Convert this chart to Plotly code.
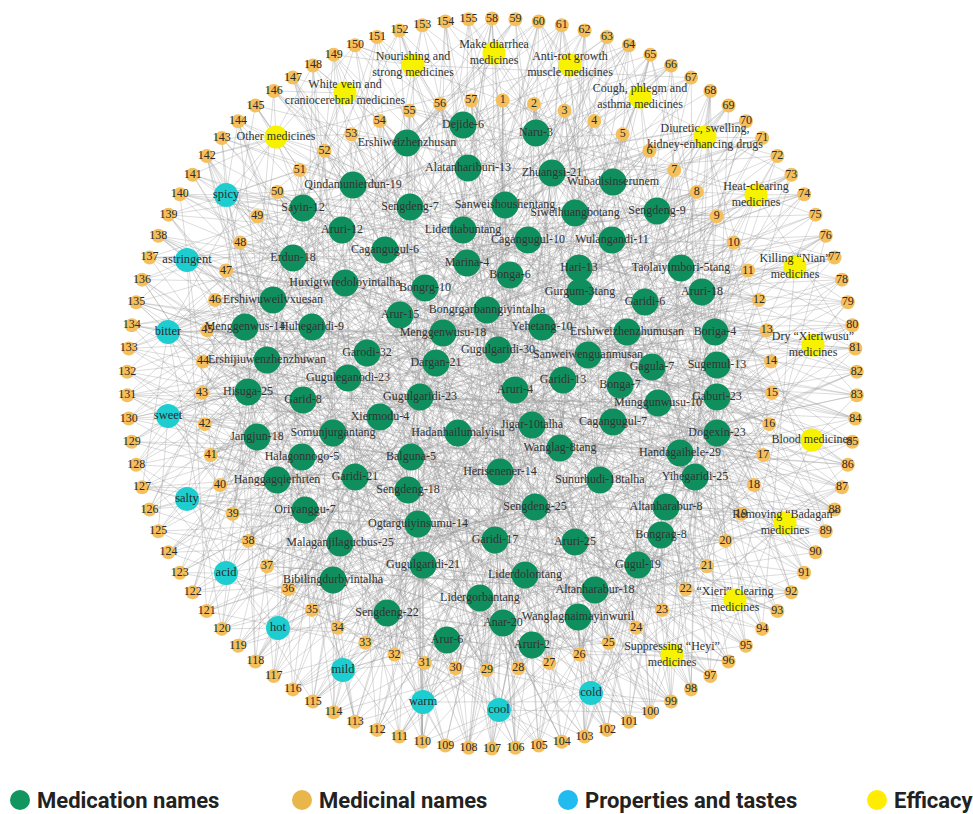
import math
import plotly.graph_objects as go

# ---------------- data ----------------
inner_ids = list(range(1, 58))      # medicinal names, inner ring
outer_ids = list(range(58, 156))    # medicinal names, outer ring

med_names = [
    "Dejide-6", "Naru-3", "Ershiweizhenzhusan", "Alatanhariburi-13", "Zhuangsi-21",
    "Wubadisinserunem", "Qindamunierdun-19", "Sayin-12", "Sengdeng-7", "Sanweishoushentang",
    "Siweihuangbotang", "Sengdeng-9", "Aruri-12", "Lideritabuntang", "Cagangugul-10",
    "Wulangandi-11", "Cagangugul-6", "Erdun-18", "Marina-4", "Hari-13",
    "Taolaiyimbori-5tang", "Bonga-6", "Huxigtwredoloyintalha", "Bongrg-10", "Gurgum-3tang",
    "Garidi-6", "Aruri-18", "Ershiwuweilvxuesan", "Bongrgarbanngiyintalha", "Arur-15",
    "Yehetang-10", "Ershiweizhenzhumusan", "Boriga-4", "Menggenwus-14", "Huhegaridi-9",
    "Menggenwusu-18", "Gugulgaridi-30", "Sanweiwenguanmusan", "Ershijiuwenzhenzhuwan", "Garodi-32",
    "Dargan-21", "Gagula-7", "Sugemul-13", "Guguleganodi-23", "Garidi-13",
    "Bonga-7", "Hisuga-25", "Garid-8", "Gugulgaridi-23", "Aruri-4",
    "Munggunwusu-10", "Gaburi-23", "Xiermodu-4", "Cagangugul-7", "Jangjun-18",
    "Somunjurgantang", "Hadanhailumalyisu", "Jigar-10talha", "Dogexin-23", "Wanglag-8tang",
    "Halagonnogo-5", "Handagaihele-29", "Balguna-5", "Herisenener-14", "Hanggagqierhrten",
    "Garidi-21", "Sunurhudi-18talha", "Yihegaridi-25", "Sengdeng-18", "Oriyanggu-7",
    "Sengdeng-25", "Altanharabur-8", "Ogtarguiyinsumu-14", "Bongrag-8", "Malaganjilagucbus-25",
    "Garidi-17", "Aruri-25", "Gugul-19", "Gugulgaridi-21", "Bibilingdurbyintalha",
    "Liderdolontang", "Altanharabur-18", "Lidergorbantang", "Sengdeng-22", "Anar-20",
    "Wanglagnaimayinwuril", "Arur-6", "Aruri-2",
]

# medicinal numbers (ring nodes) linked to each medication, same order as med_names
med_ingredients = [
    "1 57 62 150 12 88",
    "2 60 3",
    "53 54 148 145 22 95 131 9 77 110 40 18 66 5",
    "1 56 58 152 24 101 43 12 139 70 33 85 7",
    "4 63 61 2 29 118 80 15 47 136 90 10 108 55 66 25 99 8 121 37 72",
    "5 65 6 71 19 93 124 41 100 30",
    "51 52 147 146 144 35 86 14 102 60 28 117 44 70 9 133 23 91 50",
    "49 50 142 141 140 36 104 13 78 20 126 61",
    "55 149 31 97 11 83 143",
    "57 1 106",
    "3 64 27 113",
    "7 8 73 68 34 119 46 92 153",
    "48 139 38 84 16 105 59 26 128 75 21 151",
    "56 155 32 107 17 89",
    "2 59 39 112 18 79 45 130 24 96",
    "6 67 9 20 94 115 42 137 81 58 31",
    "52 150 29 98 13 74",
    "47 48 138 137 135 40 120 11 87 23 109 63 144 26 6 76 99 15",
    "54 100 36 14",
    "10 69 25 114 41 82 134 3 62 19 103 57 140",
    "10 11 75 76 107",
    "4 58 28 93 120 49",
    "46 136 22 102 71 16 125 85 38 149 5 116 33 97",
    "53 154 37 110 7 91 129 64 42 21",
    "12 78 106",
    "13 14 80 101 44 155",
    "11 12 77 79 26 111 50 123 4 89 35 143 68 17 98 130 20 65",
    "45 46 134 133 25 96 67 8 122 39 150 82 29 113 1 56 141 18 74 108",
    "30 104 57 19 127 73 44 152 9 88",
    "50 145 34 117 15 83 128 43 61 24 103 6 138 72 55",
    "27 109 16 84 47 132 3 65 21 119",
    "13 15 81 76 31 99 48 118 60 2 146 27 87 40 114 53 22 70 9 127",
    "14 82 105 36",
    "44 45 132 131 130 41 117 23 92 64 8 142 33 76",
    "43 129 28 111 52 86 19 140 68",
    "36 100 55 12 124 69 38 147 3 94 45 116 20 79 58 133 26 107",
    "29 106 42 118 5 71 135 24 90 57 148 14 102 32 63 125 49 84 11 155 37 96 1 73 139 18 110 54 81 30",
    "16 83 112",
    "42 43 44 128 127 35 113 21 88 59 10 151 26 95 48 122 66 4 136 30 77 17 99 51 144 39 103 62 29",
    "38 121 47 104 15 73 138 27 91 58 6 126 34 86 54 110",
    "33 97 51 134 8 80 19 119 64 2 143 41 108 27 69 154 22 100 46 87 12",
    "17 85 16 115 34 72 3",
    "15 16 84 86 36 103 59 121 6 92 47 141 22",
    "41 42 125 124 32 109 56 17 87 66 3 148 40 114 20 75 131 9 96 53 112 28 71",
    "23 105 45 128 11 83 137 31 62 100 2 119 52",
    "18 87 7 90 37 111 146",
    "42 126 130 123 39 102 22 85 64 13 146 48 118 30 74 5 137 97 24 58 109 35 152 16 81",
    "40 124 25 93 60 8 139 105",
    "35 107 20 78 49 133 1 67 114 28 90 145 11 55 99 32 123 6 84 44 152 18 71",
    "26 89 53 140",
    "19 88 17 102 43 131 70 8 115 56",
    "17 18 89 91 38 112 10 66 135 47 4 100 28 154 60 82 21 124 52 95 33 69 5",
    "37 122 50 108",
    "21 90 32 116 7 62 149",
    "40 41 123 122 121 31 106 12 79 57 143 24 94 65 3 131 46 88",
    "38 120 18 93",
    "27 101 48 130 14 67 150 35 86 9 115",
    "24 95 61 13 108 39 141 76 2 126",
    "18 19 20 92 94 40 113 7 68 134 25 81 149 56 97 12 120 45 73 30 104 63 1",
    "25 96 22 117 54 79 8 135",
    "39 120 36 85 148",
    "20 21 93 95 97 26 110 5 66 129 44 84 10 150 35 101 59 115 14 72 140 50 23 88 131 3 78 153 31",
    "32 111 29 77 142",
    "28 107 58 126 15 70 137 42 98 6 116 33 83 154",
    "38 39 118 119 116 30 101 23 80 136 9 65",
    "36 115 27 92 51 144 11 72 103 45 19 128 62 6 123 34 89 153 14 78 40",
    "24 98 31 121 8 74 138 43 64 105 17 147 56 90 2 129 67 36",
    "21 22 96 98 99 30 111 4 67 132 46 85 16 146 57 103 25 138 75 9 122 37 94 61 151",
    "33 110 54 127 10 76 142 26 95 49 117 3 69 139 41 106 18 83",
    "37 38 114 115 29 100 73",
    "29 104 56 133 12 82 145 34 97 1 121 50 71 153 20 108 39 88 130 7 62 115 44 151 27",
    "22 23 98 100 48 125 15 79",
    "34 113 60 136 4 74 147 39 102 21 129 63 9 110",
    "22 23 24 101 99 32 119 11",
    "35 36 37 116 117 118 26 94 63 142 10 75 127 47 5 132 52 86 19 109 64 148 30 99 13",
    "28 29 30 106 108 41 132 17 93 57 147 22 80 124 65 3 135",
    "25 26 27 103 105 46 127 14 87 68 155 6 116 33 91 53 143 18 77 120 39 111 2 59 138",
    "23 24 25 100 102 49 134 12 68 16 122 55 95 41 144 7 87 61 106",
    "32 33 34 112 110 43 135 23 89 61 149 8 118 48 74 27 141 15 99 58 131",
    "35 36 113 114 115 51 128 28 82",
    "26 27 105 107 65 142 9",
    "24 25 26 101 103 104 37 125 19 91 52 136 13 70 152 44 117 66",
    "28 29 30 108 109 54 139 20",
    "31 32 33 34 111 112 113 47 123 16 90 60 144 5 78 134 42 96 25 155 69 11",
    "27 28 29 104 106 107 45 126 21 85 63 154 10 71 130 38 92 1 114 50",
    "25 26 101 102 103 53 133 14 80 132",
    "30 31 32 108 110 111",
    "27 28",
]

taste_names = ["spicy", "astringent", "bitter", "sweet", "salty", "acid",
               "hot", "mild", "warm", "cool", "cold"]
taste_links = [
    "48 49 50 51 139 140 141 142 143 144 12 65 88 101 23 77 150 9 34 118",
    "46 47 137 138 136 135 70 22 95 110 3 58 121 29 84",
    "44 45 46 133 134 135 132 13 57 93 105 17 66 148 24 80 120 37 2 71 99 127 6 54",
    "41 42 43 128 129 130 131 30 15 64 111 86 152 19 74 125 40 97 8 59",
    "39 40 125 126 127 20 92 61 115 145 33",
    "37 38 122 123 124 11 76 103 56 140 27",
    "34 35 36 117 118 119 120 3 82 149 50 14 96 61 128",
    "32 33 113 114 115 116 25 70 7 142 89 45",
    "30 31 110 111 112 113 21 60 13 99 151 4 87 48 136",
    "27 28 29 104 105 106 107 108 109 110 1 16 53 73 92 147 19 64 125 40 81 5 100 38",
    "24 25 26 101 102 103 100 99 18 63 86 10 154 47 121 35",
]

efficacy_names = [
    "Other medicines",
    "White vein and<br>craniocerebral medicines",
    "Nourishing and<br>strong medicines",
    "Make diarrhea<br>medicines",
    "Anti-rot growth<br>muscle medicines",
    "Cough, phlegm and<br>asthma medicines",
    "Diuretic, swelling,<br>kidney-enhancing drugs",
    "Heat-clearing<br>medicines",
    "Killing \u201cNian\u201d<br>medicines",
    "Dry \u201cXieriwusu\u201d<br>medicines",
    "Blood medicines",
    "Removing \u201cBadagan\u201d<br>medicines",
    "\u201cXieri\u201d clearing<br>medicines",
    "Suppressing \u201cHeyi\u201d<br>medicines",
]
efficacy_links = [
    "141 142 143 144 145 146 52 53 13 88 120 30",
    "146 147 148 149 54 55 7 99 126 41",
    "149 150 151 152 153 56 21 110 67 35",
    "154 155 58 59 60 57 1 2 44 91 105 130",
    "60 61 62 63 64 2 3 25 73 118 142",
    "63 64 65 66 67 4 5 6 32 98 137",
    "68 69 70 71 72 6 7 16 89 112 47",
    "72 73 74 75 8 9 10 29 55 103 124 150 36 81",
    "76 77 78 79 10 11 12 39 94 131",
    "79 80 81 82 83 13 14 22 48 116 140",
    "83 84 85 86 87 16 17 28 60 97 127 152 43",
    "87 88 89 90 91 18 19 20 33 65 106 135 50",
    "91 92 93 94 95 21 22 23 37 76 114 146 6",
    "95 96 97 98 99 100 24 25 26 42 68 109 138 15",
]

legend_labels = ["Medication names", "Medicinal names", "Properties and tastes", "Efficacy"]

# ---------------- layout (pixel positions) ----------------
med_pos = [
    (463, 125), (536, 133), (407, 143), (468, 168), (552, 173),
    (613, 182), (353, 185), (303, 208), (410, 207), (505, 205),
    (575, 213), (657, 211), (342, 230), (463, 230), (528, 240),
    (612, 240), (385, 250), (293, 258), (467, 263), (579, 268),
    (681, 268), (510, 275), (345, 283), (425, 288), (580, 292),
    (645, 302), (702, 292), (273, 300), (487, 310), (400, 315),
    (542, 327), (627, 332), (715, 332), (245, 327), (312, 327),
    (443, 333), (498, 350), (588, 355), (267, 360), (367, 353),
    (436, 363), (652, 367), (717, 365), (348, 378), (563, 380),
    (620, 385), (248, 392), (303, 400), (420, 397), (515, 390),
    (658, 403), (717, 397), (380, 417), (613, 422), (257, 437),
    (333, 433), (458, 433), (532, 425), (717, 433), (560, 448),
    (302, 457), (680, 453), (411, 457), (500, 472), (277, 480),
    (355, 477), (600, 480), (695, 477), (408, 490), (305, 510),
    (535, 507), (666, 507), (418, 524), (661, 535), (340, 543),
    (495, 540), (575, 542), (638, 565), (423, 565), (333, 580),
    (525, 575), (595, 590), (480, 598), (387, 613), (503, 623),
    (578, 617), (447, 640), (532, 645),
]
taste_pos = [(226, 195), (187, 260), (168, 332), (168, 416), (187, 499), (226, 573),
             (278, 628), (343, 670), (423, 702), (499, 710), (591, 693)]
efficacy_pos = [(276, 137), (345, 93), (413, 65), (494, 53), (570, 65), (640, 97),
                (705, 137), (756, 195), (795, 267), (813, 345), (812, 440), (785, 523),
                (735, 600), (672, 655)]

OUTER_C, OUTER_R = (492.0, 383.5), 365.0
INNER_C, INNER_R = (487.0, 385.0), 285.0

ring_pos = {}
for k, n in enumerate(inner_ids):
    a = math.radians((k + 0.5) * 360.0 / len(inner_ids))
    ring_pos[n] = (INNER_C[0] + INNER_R * math.sin(a), INNER_C[1] - INNER_R * math.cos(a))
for k, n in enumerate(outer_ids):
    a = math.radians(k * 360.0 / len(outer_ids))
    ring_pos[n] = (OUTER_C[0] + OUTER_R * math.sin(a), OUTER_C[1] - OUTER_R * math.cos(a))

# ---------------- edges ----------------
ex, ey = [], []


def add_edges(src, targets):
    for t in targets.split():
        p = ring_pos[int(t)]
        ex.extend([src[0], p[0], None])
        ey.extend([src[1], p[1], None])


for pos, ing in zip(med_pos, med_ingredients):
    add_edges(pos, ing)
for pos, ing in zip(taste_pos, taste_links):
    add_edges(pos, ing)
for pos, ing in zip(efficacy_pos, efficacy_links):
    add_edges(pos, ing)

GREEN, ORANGE, CYAN, YELLOW = "#0f8f5e", "#f5bf5c", "#1dcdd0", "#f6f200"
SERIF = "Liberation Serif"

fig = go.Figure()
fig.add_trace(go.Scatter(x=ex, y=ey, mode="lines", hoverinfo="skip",
                         line=dict(color="rgba(150,150,150,0.4)", width=0.85),
                         showlegend=False))

ring_all = inner_ids + outer_ids
fig.add_trace(go.Scatter(
    x=[ring_pos[n][0] for n in ring_all], y=[ring_pos[n][1] for n in ring_all],
    mode="markers", marker=dict(size=14, color=ORANGE, line=dict(width=0)),
    showlegend=False, hoverinfo="skip"))
fig.add_trace(go.Scatter(
    x=[p[0] for p in taste_pos], y=[p[1] for p in taste_pos],
    mode="markers", marker=dict(size=24, color=CYAN, line=dict(width=0)),
    showlegend=False, hoverinfo="skip"))
fig.add_trace(go.Scatter(
    x=[p[0] for p in efficacy_pos], y=[p[1] for p in efficacy_pos],
    mode="markers", marker=dict(size=23, color=YELLOW, line=dict(width=0)),
    showlegend=False, hoverinfo="skip"))
fig.add_trace(go.Scatter(
    x=[p[0] for p in med_pos], y=[p[1] for p in med_pos],
    mode="markers", marker=dict(size=27, color=GREEN, line=dict(width=0)),
    showlegend=False, hoverinfo="skip"))

# labels on top
fig.add_trace(go.Scatter(
    x=[ring_pos[n][0] for n in ring_all], y=[ring_pos[n][1] for n in ring_all],
    mode="text", text=[str(n) for n in ring_all], textposition="middle center",
    textfont=dict(family=SERIF, size=12, color="#2b2b2b"),
    showlegend=False, hoverinfo="skip"))
fig.add_trace(go.Scatter(
    x=[p[0] for p in taste_pos], y=[p[1] for p in taste_pos],
    mode="text", text=taste_names, textposition="middle center",
    textfont=dict(family=SERIF, size=12.5, color="#2b2b2b"),
    showlegend=False, hoverinfo="skip"))
fig.add_trace(go.Scatter(
    x=[p[0] for p in efficacy_pos], y=[p[1] for p in efficacy_pos],
    mode="text", text=efficacy_names, textposition="middle center",
    textfont=dict(family=SERIF, size=12, color="#333333"),
    showlegend=False, hoverinfo="skip"))
fig.add_trace(go.Scatter(
    x=[p[0] for p in med_pos], y=[p[1] for p in med_pos],
    mode="text", text=med_names, textposition="middle center",
    textfont=dict(family=SERIF, size=12, color="#333333"),
    showlegend=False, hoverinfo="skip"))

# legend (manual, bottom row)
legend_colors = ["#12965f", "#e9b64b", "#22bbf0", "#ffec00"]
legend_x = [20, 302, 568, 877]
LEG_Y = 800
fig.add_trace(go.Scatter(
    x=legend_x, y=[LEG_Y] * 4, mode="markers",
    marker=dict(size=20, color=legend_colors, line=dict(width=0)),
    showlegend=False, hoverinfo="skip", cliponaxis=False))
for lx, lab in zip(legend_x, legend_labels):
    fig.add_annotation(x=lx + 15, y=LEG_Y, text=lab, showarrow=False,
                       xanchor="left", yanchor="middle",
                       font=dict(family="Roboto, Liberation Sans, sans-serif", size=22,
                                 color="#222222", weight="bold"))

fig.update_layout(
    width=973, height=814, margin=dict(l=0, r=0, t=0, b=0),
    paper_bgcolor="white", plot_bgcolor="white",
    xaxis=dict(range=[0, 973], visible=False, fixedrange=True),
    yaxis=dict(range=[814, 0], visible=False, fixedrange=True),
    showlegend=False,
)
fig.write_html("out.html")
